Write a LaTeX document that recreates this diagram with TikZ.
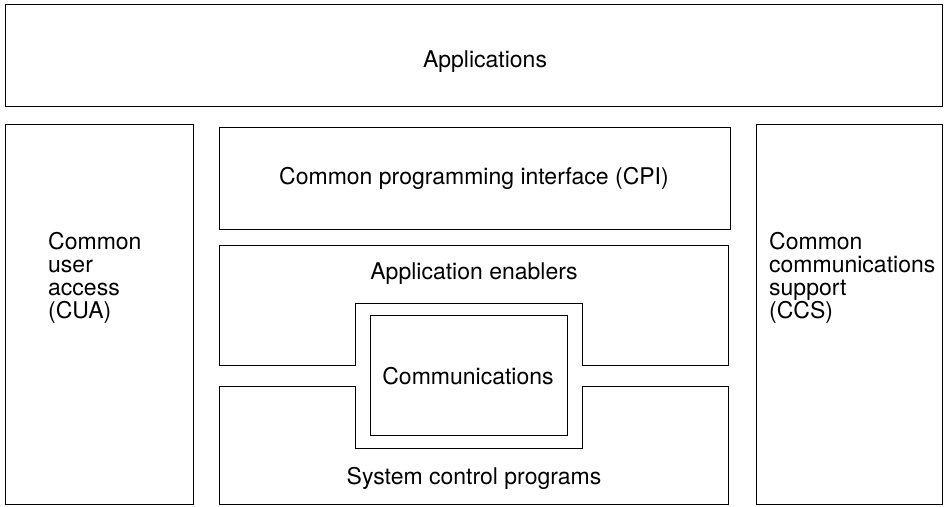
\documentclass[tikz,border=0pt]{standalone}
\usepackage{fontspec}
\setmainfont{TeX Gyre Heros}
\begin{document}
\begin{tikzpicture}[x=1pt,y=-1pt,
  box/.style={draw, line width=1pt},
  lbl/.style={font=\fontsize{23}{23}\selectfont, inner sep=0pt},
  side/.style={font=\fontsize{23}{23}\selectfont, inner sep=0pt, align=left, anchor=west}]
\useasboundingbox (0,0) rectangle (945,506);
% Applications
\draw[box] (5,4) rectangle (942,106);
\node[lbl] (app) at (485,62) {Applications};
% CUA
\draw[box] (5,124) rectangle (193,504);
\node[side] (cua) at (48,278) {Common\\user\\access\\(CUA)};
% CCS
\draw[box] (756,124) rectangle (942,504);
\node[side] (ccs) at (769,278) {Common\\communications\\support\\(CCS)};
% CPI
\draw[box] (219,127) rectangle (730,229);
\node[lbl] (cpi) at (474,178) {Common programming interface (CPI)};
% Application enablers
\draw[box] (219,245) -- (728,245) -- (728,365) -- (582,365) -- (582,303) -- (355,303) -- (355,365) -- (219,365) -- cycle;
\node[lbl] (ae) at (474,274) {Application enablers};
% System control programs
\draw[box] (219,386) -- (355,386) -- (355,448) -- (582,448) -- (582,386) -- (728,386) -- (728,504) -- (219,504) -- cycle;
\node[lbl] (scp) at (474,478) {System control programs};
% Communications
\draw[box] (370,315) rectangle (567,435);
\node[lbl] (com) at (468,376) {Communications};
\end{tikzpicture}
\end{document}
